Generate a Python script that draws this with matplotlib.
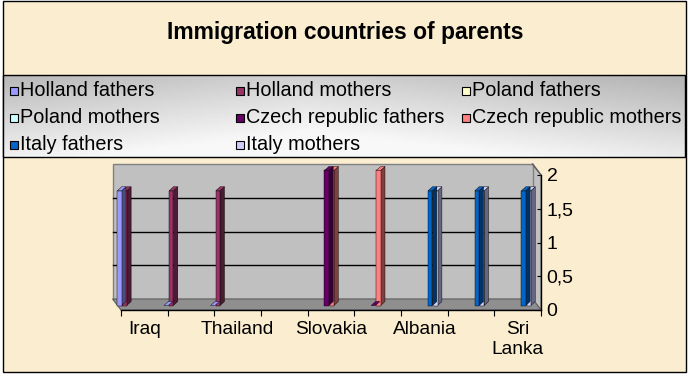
import numpy as np
import matplotlib
matplotlib.use("Agg")
import matplotlib.pyplot as plt
from matplotlib.patches import Rectangle, Polygon
from matplotlib.colors import to_rgb

nan = np.nan

# data
categories = ["Iraq", "", "Thailand", "", "Slovakia", "", "Albania", "", "Sri Lanka"]
series_names = ["Holland fathers", "Holland mothers", "Poland fathers", "Poland mothers",
                "Czech republic fathers", "Czech republic mothers", "Italy fathers", "Italy mothers"]
holland_fathers = [1.7, 0, 0, nan, nan, nan, nan, nan, nan]
holland_mothers = [1.7, 1.7, 1.7, nan, nan, nan, nan, nan, nan]
poland_fathers = [nan, nan, nan, nan, nan, nan, nan, nan, nan]
poland_mothers = [nan, nan, nan, nan, nan, nan, nan, nan, nan]
czech_fathers = [nan, nan, nan, nan, 2, 0, nan, nan, nan]
czech_mothers = [nan, nan, nan, nan, 2, 2, nan, nan, nan]
italy_fathers = [nan, nan, nan, nan, nan, nan, 1.7, 1.7, 1.7]
italy_mothers = [nan, nan, nan, nan, nan, nan, 1.7, 1.7, 1.7]
y_ticks = [0, 0.5, 1, 1.5, 2]
y_labels = ["0", "0,5", "1", "1,5", "2"]

series = [holland_fathers, holland_mothers, poland_fathers, poland_mothers,
          czech_fathers, czech_mothers, italy_fathers, italy_mothers]
colors = ["#9999FF", "#993366", "#FFFFCC", "#CCFFFF",
          "#660066", "#FF8080", "#0066CC", "#CCCCFF"]

plt.rcParams['font.family'] = ['Liberation Sans', 'DejaVu Sans']

W, H = 692, 379
fig = plt.figure(figsize=(W / 100, H / 100), dpi=100)
fig.patch.set_facecolor("white")

# frame, title and legend drawn on a pixel canvas
bg = fig.add_axes([0, 0, 1, 1])
bg.axis("off")
bg.add_patch(Rectangle((3, 1), 683, 371, fc="#FBEDCF", ec="black", lw=1))
bg.text(345, 32, "Immigration countries of parents", ha="center", va="center",
        fontsize=16.5, fontweight="bold")

# legend box with grey gradient
lx0, lx1, ly0, ly1 = 3, 685, 75, 157
gx, gy = np.meshgrid(np.linspace(0, 1, 300), np.linspace(0, 1, 60))
grad = 0.70 + 0.22 * gy + 0.12 * (1 - np.abs(gx - 0.45) / 0.55)
grad = np.clip(grad, 0, 0.97)
bg.imshow(grad, cmap="gray", vmin=0, vmax=1, extent=(lx0, lx1, ly1, ly0),
          aspect="auto", interpolation="bilinear", zorder=1)
bg.add_patch(Rectangle((lx0, ly0), lx1 - lx0, ly1 - ly0, fc="none", ec="black", lw=1, zorder=2))
col_x = [10, 236, 462]
row_y = [91, 117.5, 144.5]
for k, name in enumerate(series_names):
    cx = col_x[k % 3]
    cy = row_y[k // 3]
    bg.add_patch(Rectangle((cx, cy - 4), 8, 8, fc=colors[k], ec="black", lw=0.8, zorder=3))
    bg.text(cx + 10, cy, name, va="center", ha="left", fontsize=14.3, zorder=3)
bg.set_xlim(0, W)
bg.set_ylim(H, 0)

# 3d-looking column chart (front plane = axes)
ax = fig.add_axes([121 / W, (H - 310) / H, 420 / W, 135 / H])
ax.set_xlim(0, 9)
ax.set_ylim(0, 2)
ax.patch.set_visible(False)
px_x = 420 / 9.0
px_y = 135 / 2.0

bdx, bdy = -8.5 / px_x, 11 / px_y   # back wall shift
wall = "#C0C0C0"
ax.add_patch(Polygon([(9 + bdx, bdy), (9 + bdx, 2 + bdy), (9, 2), (9, 0)],
                     fc=wall, ec="#808080", lw=1, clip_on=False, zorder=1))
ax.add_patch(Rectangle((bdx, bdy), 9, 2, fc=wall, ec="#808080", lw=1, clip_on=False, zorder=1))
for v in y_ticks[1:-1]:
    ax.plot([bdx, 9 + bdx], [v + bdy, v + bdy], color="black", lw=1, clip_on=False, zorder=2)
ax.add_patch(Polygon([(0, 0), (9, 0), (9 + bdx, bdy), (bdx, bdy)],
                     fc="#8F8F8F", ec="#606060", lw=0.8, clip_on=False, zorder=2))
ax.plot([9 + bdx, 9], [2 + bdy, 2], color="#606060", lw=1, clip_on=False, zorder=2)

# bars
slot = 5.13 / px_x
fw = 4.3 / px_x
sw = 4.4 / px_x
sh = 4.0 / px_y
bar_dx = -3.7 / px_x
bar_dy = 4.5 / px_y
for s in range(len(series) - 1, -1, -1):
    front = np.array(to_rgb(colors[s]))
    side = front * 0.5
    for i, v in enumerate(series[s]):
        if np.isnan(v):
            continue
        x0 = i + s * slot + bar_dx
        b = bar_dy
        if v > 0:
            ax.add_patch(Polygon([(x0 + fw, b), (x0 + fw + sw, b + sh),
                                  (x0 + fw + sw, b + v + sh), (x0 + fw, b + v)],
                                 fc=side, ec="black", lw=0.3, clip_on=False, zorder=3))
            ax.bar(x0, v, width=fw, bottom=b, align="edge", color=front,
                   edgecolor="black", linewidth=0.3, clip_on=False, zorder=3)
        ax.add_patch(Polygon([(x0, b + v), (x0 + fw, b + v),
                              (x0 + fw + sw, b + v + sh), (x0 + sw, b + v + sh)],
                             fc=front, ec="black", lw=0.3, clip_on=False, zorder=3))

# axes lines and ticks
for sp in ["top", "left"]:
    ax.spines[sp].set_visible(False)
for sp in ["bottom", "right"]:
    ax.spines[sp].set_color("black")
    ax.spines[sp].set_linewidth(1)
    ax.spines[sp].set_zorder(4)
ax.yaxis.tick_right()
ax.set_yticks(y_ticks)
ax.set_yticklabels(y_labels, fontsize=14)
ax.tick_params(axis="y", direction="in", length=3, pad=4)
ax.set_xticks(np.arange(0, 10))
ax.set_xticklabels([])
ax.tick_params(axis="x", which="major", direction="out", length=4)
ax.set_xticks(np.arange(len(categories)) + 0.5, minor=True)
ax.set_xticklabels([c.replace(" ", "\n") for c in categories], minor=True,
                   fontsize=13.8, linespacing=1.2)
ax.tick_params(axis="x", which="minor", length=0, pad=8)

fig.savefig("out.png", dpi=100)
